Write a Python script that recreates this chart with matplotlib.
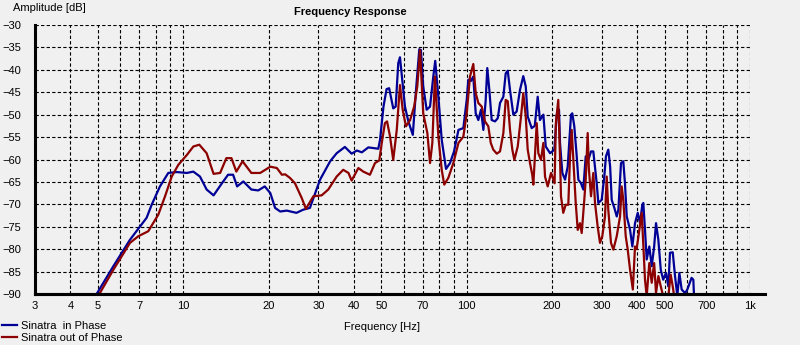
import matplotlib
matplotlib.use('Agg')
import matplotlib.pyplot as plt
from matplotlib.lines import Line2D

plt.rcParams['font.family'] = ['Liberation Sans', 'DejaVu Sans']

# Sinatra in phase (Hz, dB)
blue_freq = [4.95, 5.67, 6.49, 7.43, 7.74, 8.28, 8.86, 9.49, 10.3, 10.86,
             11.46, 12.1, 12.8, 13.7, 14.4, 15.0, 15.5, 16.3, 17.4, 18.4,
             19.4, 20.3, 21.1, 22.0, 23.2, 25.1, 26.5, 28.0, 30.4, 33.0,
             34.8, 37.2, 39.3, 41.0, 42.7, 45.0, 48.8, 49.5, 50.9, 52.2,
             53.3, 55.1, 56.2, 57.4, 58.2, 59.3, 60.6, 62.3, 64.6, 66.3,
             68.1, 69.0, 70.3, 72.3, 74.3, 76.3, 77.5, 79.5, 81.7, 84.6,
             87.4, 90.3, 93.6, 97.4, 100.1, 101.4, 103.5, 105.6, 107.7, 110.0,
             112.4, 114.6, 116.8, 118.3, 120.3, 122.6, 126.0, 128.8, 131.2, 134.8,
             137.4, 139.7, 142.3, 146.2, 150.2, 154.3, 158.5, 161.7, 164.3, 169.7,
             174, 178.2, 181.5, 186.6, 190.2, 197.1, 204.0, 208.0, 211.9, 213.6,
             217.7, 222.5, 227.4, 233.6, 236.0, 239.9, 244.7, 247.9, 253.3, 258.1,
             263.2, 268.8, 274.8, 280.0, 287.8, 291.6, 299.7, 306.1, 310.3, 316.2,
             321.0, 325.1, 332.2, 338.7, 343.2, 350.6, 357.2, 362.1, 367.3, 377.4,
             384.5, 392.9, 401.7, 409.2, 416.9, 420.3, 426.1, 432, 441.3, 450,
             459, 466, 474.9, 484.3, 494, 505.4, 515, 522, 533.8, 543.8,
             554.2, 563.2, 574, 590, 601, 622, 631, 634.6]
blue_db = [-90, -83.8, -77.9, -73.0, -70.1, -66.0, -63.0, -62.8, -63.0, -62.7,
           -63.8, -66.7, -68.0, -65.3, -63.4, -63.4, -66.0, -64.9, -66.7, -66.9,
           -66.0, -67.5, -70.8, -71.6, -71.4, -71.9, -71.2, -70.8, -64.5, -60.4,
           -58.6, -57.2, -58.7, -58.0, -58.4, -57.3, -57.6, -55.6, -48.2, -44.3,
           -44.1, -48.6, -48.2, -38.5, -37.2, -42.2, -48.2, -51.5, -54.5, -44.5,
           -35.4, -35.6, -43.7, -48.9, -48.2, -41.5, -38.0, -46.0, -55.6, -62.1,
           -60.8, -58.2, -53.4, -53.0, -46.7, -42.2, -42.5, -41.5, -49.7, -51.2,
           -48.9, -53.4, -46.7, -39.6, -44.5, -51.2, -51.5, -50.8, -47.4, -46.0,
           -40.8, -40.2, -44.5, -50.0, -49.3, -44.5, -41.4, -43.7, -50.4, -53.0,
           -52.5, -46.0, -51.2, -50.0, -57.1, -58.6, -57.8, -50.0, -48.9, -56.3,
           -63.0, -64.5, -61.6, -50.0, -49.7, -52.6, -59.3, -64.5, -65.3, -66.7,
           -59.3, -60.1, -58.2, -58.2, -65.3, -69.7, -69.0, -63.8, -59.3, -57.8,
           -61.6, -69.0, -70.8, -72.7, -71.2, -60.8, -60.4, -65.3, -72.7, -75.7,
           -79.4, -74.2, -71.9, -74.2, -70.1, -69.7, -75.7, -82.3, -79.4, -83.8,
           -79.4, -74.2, -77.9, -84.6, -86.8, -85.3, -88.3, -80.8, -80.7, -86.0,
           -90.5, -85.3, -89.0, -89.8, -89.0, -86.4, -86.8, -90.5]

# Sinatra out of phase (Hz, dB)
red_freq = [5.06, 5.67, 6.49, 6.95, 7.53, 8.17, 8.63, 9.11, 9.61, 10.3,
            10.86, 11.4, 12.1, 12.8, 13.5, 14.2, 14.8, 15.4, 16.2, 17.4,
            18.7, 20.3, 21.4, 22.3, 22.9, 23.8, 24.8, 26.2, 27.1, 28.8,
            30.8, 32.5, 34.8, 36.7, 38.3, 39.3, 41.5, 43.2, 45.6, 47.5,
            49.2, 50.2, 51.5, 52.4, 53.7, 55.1, 56.7, 58.2, 59.5, 61.1,
            63.2, 65.3, 67.0, 68.5, 70.3, 72.7, 74.3, 75.7, 77.3, 79.5,
            81.7, 83.4, 86.2, 89.8, 93.6, 97.4, 100.1, 102.8, 105.6, 107.7,
            110.0, 113.1, 116.1, 119.3, 121.7, 124.2, 127.8, 131.2, 134.8, 137.4,
            139.7, 142.3, 145.0, 147.4, 151.5, 155.6, 158.5, 161.7, 164.3, 167.4,
            170.5, 172.0, 176.8, 179.1, 183.0, 186.6, 189.1, 193.3, 198.6, 204.4,
            206.5, 210.6, 213.6, 215.3, 219.3, 223.7, 228.5, 231.7, 234.9, 238,
            242.7, 246.7, 251.3, 254.8, 260.2, 263.2, 267.5, 270, 274.8, 280.0,
            283.9, 290.0, 295.6, 301.2, 307.9, 312.2, 316.2, 323.2, 329.5, 338.7,
            347.9, 352.6, 357.2, 364.3, 370.3, 377.4, 386, 392.9, 398, 407,
            415, 420.3, 426.1, 432, 441.3, 450, 459, 466, 475, 484.3,
            494, 515, 525, 533.8, 540]
red_db = [-90, -84.6, -78.6, -77.1, -76.0, -72.3, -68.2, -63.8, -61.2, -59.0,
          -57.1, -56.7, -58.6, -63.2, -63.0, -59.7, -59.7, -62.7, -60.4, -63.0,
          -63.0, -61.6, -61.9, -63.4, -63.3, -64.1, -65.3, -68.6, -71.0, -68.2,
          -68.0, -66.7, -63.8, -62.3, -63.0, -64.7, -61.9, -62.7, -63.4, -60.8,
          -60.2, -56.3, -51.9, -51.5, -54.9, -60.1, -53.4, -43.4, -48.9, -52.6,
          -51.2, -48.2, -43.7, -35.6, -49.7, -54.1, -60.8, -56.3, -41.5, -54.9,
          -62.3, -65.6, -64.1, -60.8, -56.3, -54.9, -49.7, -41.5, -38.7, -45.2,
          -47.4, -48.2, -51.5, -52.6, -56.3, -57.8, -58.7, -58.2, -54.1, -46.7,
          -47.0, -53.4, -57.8, -60.1, -57.1, -50.4, -45.2, -50.4, -57.8, -60.8,
          -63.4, -65.6, -51.9, -58.6, -60.1, -56.3, -63.8, -66.0, -63.0, -65.3,
          -52.0, -46.7, -59.3, -68.2, -71.9, -70.1, -70.1, -59.3, -53.4, -60.0,
          -69.7, -75.7, -74.2, -76.4, -69.0, -64.5, -54.1, -62.0, -68.2, -63.0,
          -69.7, -74.9, -78.6, -77.1, -72.7, -63.8, -71.2, -78.6, -80.1, -77.1,
          -72.7, -66.0, -69.0, -77.1, -80.1, -84.6, -89.0, -79.4, -80.0, -75.7,
          -71.9, -79.0, -86.8, -90.5, -83.1, -87.5, -83.1, -89.8, -86.0, -88.3,
          -90.5, -90.5, -85.7, -88.3, -90.5]

xticks = [3, 4, 5, 7, 10, 20, 30, 40, 50, 70, 100, 200, 300, 400, 500, 700, 1000]
xtick_labels = ['3', '4', '5', '7', '10', '20', '30', '40', '50', '70', '100', '200', '300', '400', '500', '700', '1k']
xminor = [6, 8, 9, 60, 80, 90, 600, 800, 900]
yticks = [-90, -85, -80, -75, -70, -65, -60, -55, -50, -45, -40, -35, -30]

bg = '#f0f0f0'
fig = plt.figure(figsize=(8, 3.45), dpi=100, facecolor=bg)
ax = fig.add_axes([35/800, 1 - 294/345, 715/800, 269/345])
ax.set_facecolor(bg)

ax.plot(blue_freq, blue_db, color='#000096', lw=1.6, label='Sinatra  in Phase')
ax.plot(red_freq, red_db, color='#8c0000', lw=1.6, label='Sinatra out of Phase')

ax.set_xscale('log')
ax.set_xlim(3, 1000)
ax.set_ylim(-90, -30)
ax.set_xticks(xticks, xtick_labels)
ax.set_xticks(xminor, minor=True)
ax.xaxis.set_minor_formatter(plt.NullFormatter())
ax.set_yticks(yticks)
ax.tick_params(which='both', length=0, labelsize=8)
ax.tick_params(axis='x', pad=5)
ax.tick_params(axis='y', pad=10)
ax.grid(which='both', color='black', linestyle=(0, (3, 2)), linewidth=0.8)

for s in ['top', 'right']:
    ax.spines[s].set_visible(False)
for s in ['left', 'bottom']:
    ax.spines[s].set_linewidth(2.2)

# bottom axis line runs a little past 1k
fig.add_artist(Line2D([35/800, 765/800], [1 - 294/345] * 2, color='black', lw=2.2))

fig.text(13/800, 1 - 8/345, 'Amplitude [dB]', fontsize=8, va='center', ha='left')
fig.text(350/800, 1 - 12/345, 'Frequency Response', fontsize=8, fontweight='bold', va='center', ha='center')
fig.text(382/800, 1 - 327/345, 'Frequency [Hz]', fontsize=8, va='center', ha='center')

fig.legend(loc='lower left', bbox_to_anchor=(0.0, 0.0), frameon=False, fontsize=8,
           handlelength=1.3, handletextpad=0.4, labelspacing=0.15, borderpad=0.1, borderaxespad=0.1)

plt.savefig('out.png', dpi=100, facecolor=bg)
